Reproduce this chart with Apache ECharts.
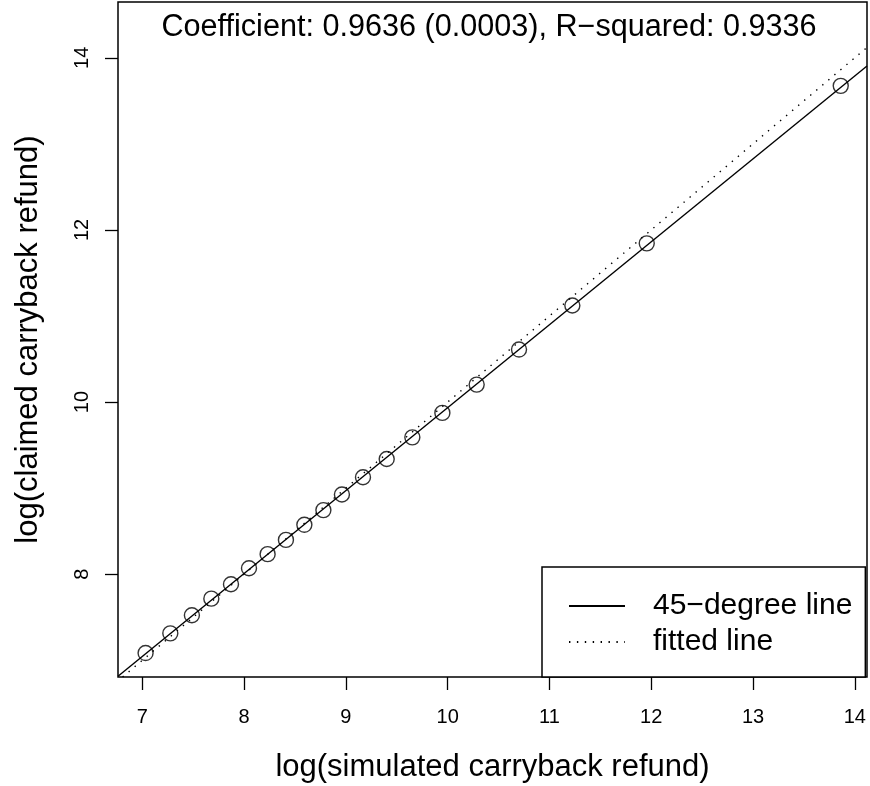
<!DOCTYPE html>
<html>
<head>
<meta charset="utf-8">
<script src="https://cdn.jsdelivr.net/npm/echarts@6/dist/echarts.min.js"></script>
<style>
  html, body { margin: 0; padding: 0; background: #fff; }
  #main { width: 870px; height: 786px; }
</style>
</head>
<body>
<div id="main"></div>
<script>
// log(simulated carryback refund) per bin
var simulated = [7.032, 7.275, 7.487, 7.678, 7.871, 8.048, 8.231, 8.411, 8.592, 8.779,
                 8.961, 9.168, 9.401, 9.653, 9.948, 10.285, 10.701, 11.225, 11.956, 13.862];
// log(claimed carryback refund) per bin
var claimed = [7.084, 7.313, 7.523, 7.716, 7.884, 8.070, 8.233, 8.399, 8.574, 8.745,
               8.926, 9.126, 9.338, 9.590, 9.874, 10.203, 10.610, 11.122, 11.844, 13.674];

var xTicks = [7, 8, 9, 10, 11, 12, 13, 14];
var yTicks = [8, 10, 12, 14];
var xRange = [6.761, 14.12];
var yRange = [6.806, 14.648];

// lines as drawn (solid: intercept + slope, dotted: identity)
var solidLine = { intercept: 0.299, slope: 0.9636 };
var dottedLine = { intercept: 0, slope: 1 };

var titleText = "Coefficient: 0.9636 (0.0003), R\u2212squared: 0.9336";
var legendNames = ["45\u2212degree line", "fitted line"];

var FONT = "'Liberation Sans', Arial, Helvetica, sans-serif";

function lineData(l, x0, x1) {
    return [[x0, l.intercept + l.slope * x0], [x1, l.intercept + l.slope * x1]];
}

var chart = echarts.init(document.getElementById("main"), null, { renderer: "canvas" });

var option = {
    backgroundColor: "#fff",
    animation: false,
    title: {
        text: titleText,
        left: 489,
        top: 12,
        padding: 0,
        textAlign: "center",
        textStyle: { fontFamily: FONT, fontSize: 30.6, fontWeight: "normal", color: "#000" }
    },
    grid: {
        left: 118, top: 2, width: 749, height: 675,
        outerBoundsMode: "none",
        containLabel: false,
        show: true, borderColor: "#000", borderWidth: 1.5, backgroundColor: "transparent"
    },
    legend: {
        data: legendNames,
        orient: "vertical",
        left: 542, top: 567,
        padding: [24, 13, 20, 26],
        itemWidth: 56, itemHeight: 14, itemGap: 6,
        borderColor: "#000", borderWidth: 1.5, backgroundColor: "#fff",
        selectedMode: false,
        itemStyle: { opacity: 0 },
        textStyle: { fontFamily: FONT, fontSize: 30, color: "#000", padding: [0, 0, 0, 23] }
    },
    xAxis: {
        type: "value",
        min: xRange[0], max: xRange[1],
        name: "log(simulated carryback refund)",
        nameLocation: "middle",
        nameGap: 75,
        nameTextStyle: { fontFamily: FONT, fontSize: 31, color: "#000" },
        axisLine: { show: false },
        splitLine: { show: false },
        axisTick: { show: true, length: 13, customValues: xTicks, lineStyle: { color: "#000", width: 1.3 } },
        axisLabel: { customValues: xTicks, margin: 30, fontFamily: FONT, fontSize: 20, color: "#000" }
    },
    yAxis: {
        type: "value",
        min: yRange[0], max: yRange[1],
        name: "log(claimed carryback refund)",
        nameLocation: "middle",
        nameGap: 74,
        nameRotate: 90,
        nameTextStyle: { fontFamily: FONT, fontSize: 31, color: "#000" },
        axisLine: { show: false },
        splitLine: { show: false },
        axisTick: { show: true, length: 13, customValues: yTicks, lineStyle: { color: "#000", width: 1.3 } },
        axisLabel: { customValues: yTicks, rotate: 90, margin: 26, fontFamily: FONT, fontSize: 20, color: "#000" }
    },
    series: [
        {
            name: legendNames[0],
            type: "line",
            symbol: "none",
            silent: true,
            itemStyle: { color: "#000" },
            lineStyle: { color: "#000", width: 1.4, type: "solid" },
            data: lineData(solidLine, xRange[0], xRange[1])
        },
        {
            name: legendNames[1],
            type: "line",
            symbol: "none",
            silent: true,
            itemStyle: { color: "#000" },
            lineStyle: { color: "#000", width: 1.4, type: [1.4, 6.5] },
            data: lineData(dottedLine, yRange[0], xRange[1])
        },
        {
            name: "bins",
            type: "scatter",
            symbol: "circle",
            symbolSize: 15,
            itemStyle: { color: "transparent", borderColor: "#000", borderWidth: 1.4 },
            data: simulated.map(function (x, i) { return [x, claimed[i]]; })
        }
    ]
};

chart.setOption(option);
</script>
</body>
</html>
